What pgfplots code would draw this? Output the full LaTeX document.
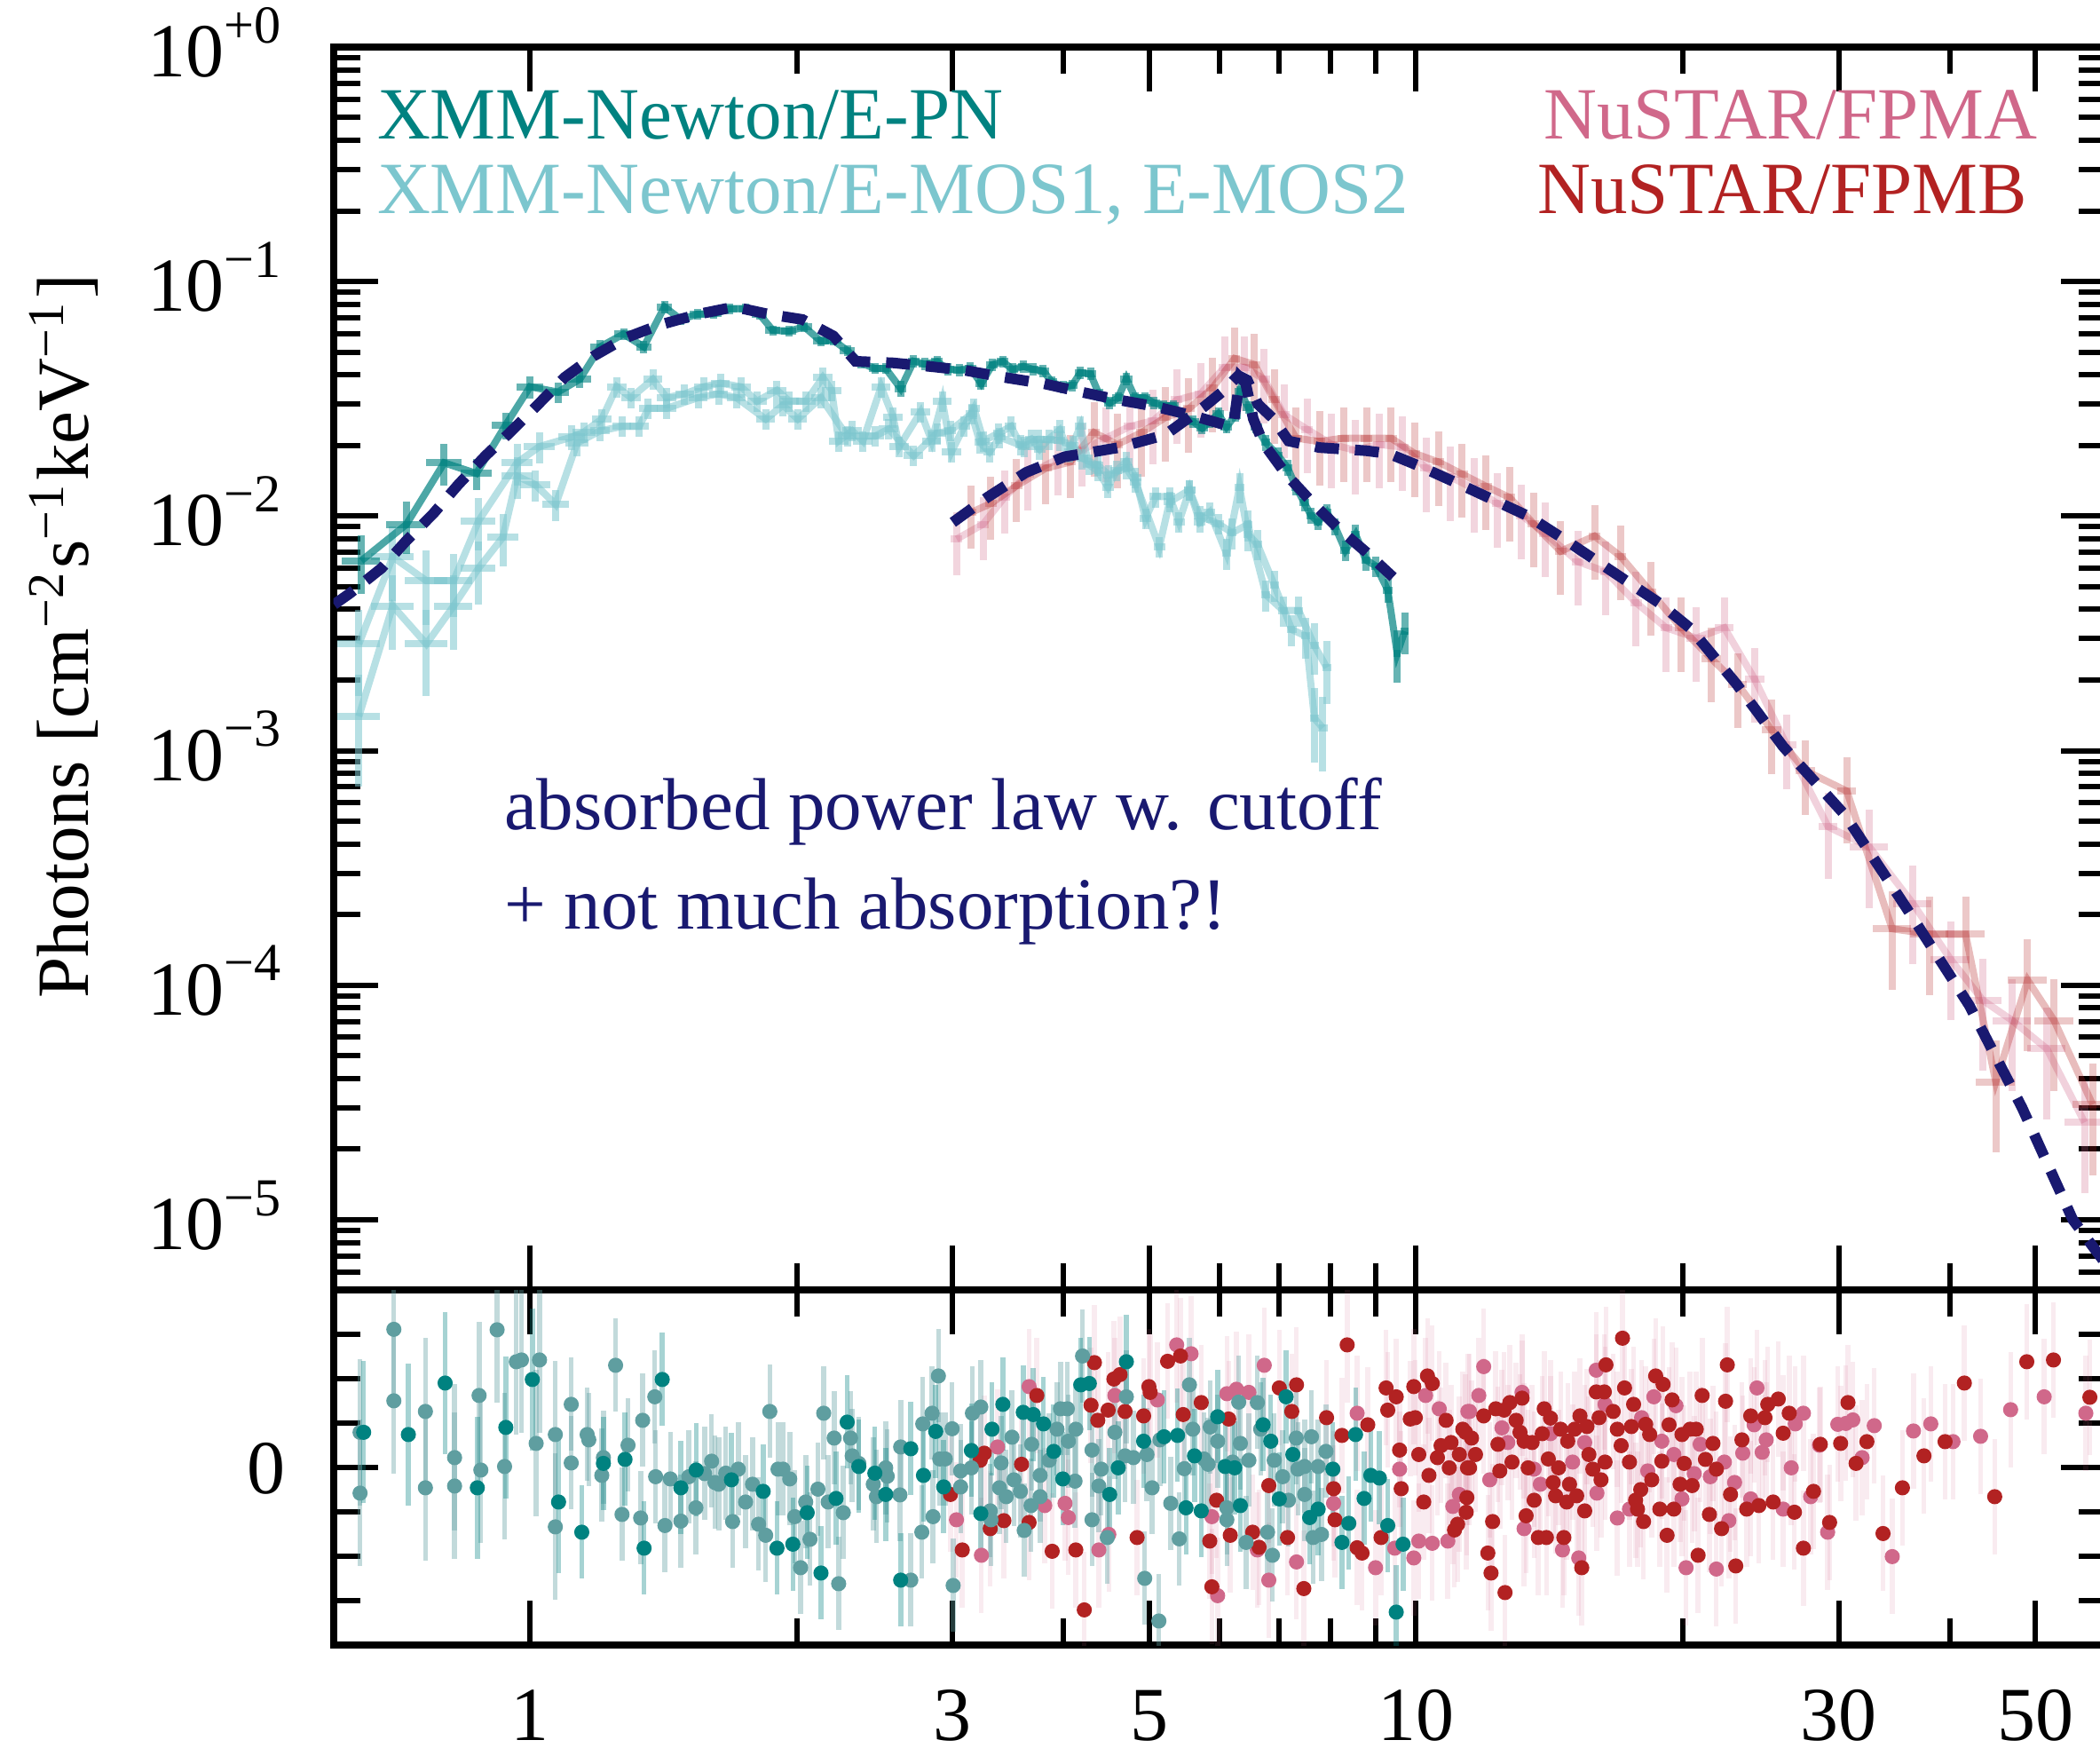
\documentclass[border=0pt]{standalone}
\usepackage{fontspec}
\setmainfont{Liberation Serif}
\usepackage{pgfplots}
\pgfplotsset{compat=1.18}

\definecolor{pn}{RGB}{0,130,128}
\definecolor{mos}{RGB}{124,198,206}
\definecolor{mosres}{RGB}{95,158,160}
\definecolor{fpma}{RGB}{208,104,138}
\definecolor{fpmb}{RGB}{178,34,34}
\definecolor{navy}{RGB}{25,25,112}

\pgfplotsset{
  every axis/.append style={
    scale only axis, width=199.66pt,
    xmin=0.6, xmax=60,
    xtick={1,3,5,10,30,50}, minor xtick={2,4,6,7,8,9,20,40},
    xtick pos=both, ytick pos=both, tick align=inside,
    major tick length=5pt, minor tick length=3pt,
    tick style={black, line width=0.6pt},
    axis line style={line width=0.8pt},
    tick label style={font=\fontsize{8.6}{10}\selectfont},
  },
  specline/.style={mark=none, line width=0.8pt,
    error bars/x dir=both, error bars/y dir=both,
    error bars/x explicit relative, error bars/y explicit relative,
    error bars/error mark=none},
  resdots/.style={only marks, mark=*, mark size=0.65pt,
    error bars/y dir=both, error bars/y fixed=#1,
    error bars/error mark=none},
  modelline/.style={no marks, color=navy, line width=1.2pt, dash pattern=on 2.7pt off 1.8pt},
}

\begin{document}
\fontsize{8.3}{10}\selectfont
\begin{tikzpicture}[font=\fontsize{8.3}{10}\selectfont]

% ---------------- spectrum ----------------
\begin{axis}[at={(37.57pt,51.55pt)}, anchor=south west, height=140.05pt,
  xmode=log, ymode=log, ymin=5e-6, ymax=1,
  ytick={1e-5,1e-4,1e-3,1e-2,1e-1,1},
  yticklabels={10\textsuperscript{−5},10\textsuperscript{−4},10\textsuperscript{−3},10\textsuperscript{−2},10\textsuperscript{−1},10\textsuperscript{+0}},
  minor ytick={6e-6,7e-6,8e-6,9e-6,
    2e-5,3e-5,4e-5,5e-5,6e-5,7e-5,8e-5,9e-5,
    2e-4,3e-4,4e-4,5e-4,6e-4,7e-4,8e-4,9e-4,
    2e-3,3e-3,4e-3,5e-3,6e-3,7e-3,8e-3,9e-3,
    2e-2,3e-2,4e-2,5e-2,6e-2,7e-2,8e-2,9e-2,
    2e-1,3e-1,4e-1,5e-1,6e-1,7e-1,8e-1,9e-1},
  xticklabels={},
  yticklabel style={anchor=base east, inner sep=0pt, yshift=-3.35pt, xshift=-5.2pt},
]
% NuSTAR FPMA
\addplot[specline, color=fpma, opacity=0.3,
  error bars/error bar style={fpma, opacity=0.28, line width=0.8pt}]
  table[x=E, y=F, x error=dE, y error=dF] {
E F dE dF
3.03 7.98e-3 0.015 0.3
3.245 9.23e-3 0.015 0.3
3.43 0.012 0.015 0.3
3.65 0.01514 0.015 0.3
3.945 0.0175 0.015 0.3
4.195 0.0191 0.015 0.3
4.465 0.0215 0.015 0.35
4.75 0.0241 0.015 0.35
5.05 0.0255 0.015 0.35
5.37 0.0313 0.015 0.35
5.71 0.0332 0.015 0.35
6.08 0.0431 0.015 0.35
6.40 0.0431 0.015 0.35
6.74 0.0383 0.015 0.35
7.095 0.0271 0.015 0.35
7.54 0.0234 0.015 0.35
8.03 0.0202 0.015 0.35
8.54 0.0191 0.015 0.35
9.08 0.0202 0.015 0.35
9.66 0.0197 0.015 0.35
10.27 0.016 0.015 0.35
10.93 0.0147 0.015 0.35
11.62 0.0131 0.015 0.35
12.36 0.0113 0.015 0.35
13.15 0.01007 0.015 0.35
13.98 8.46e-3 0.015 0.35
15.22 6.4e-3 0.015 0.35
16.37 5.79e-3 0.015 0.35
17.71 4.28e-3 0.015 0.35
19.15 3.34e-3 0.015 0.35
20.71 3.02e-3 0.025 0.35
22.28 3.34e-3 0.025 0.35
24.1 2.02e-3 0.025 0.35
26.2 1.055e-3 0.025 0.35
29.17 4.74e-4 0.025 0.4
32.49 3.88e-4 0.05 0.45
36.36 2.23e-4 0.05 0.45
40.1 1.29e-4 0.05 0.45
43.6 8.63e-5 0.05 0.5
47.1 7.06e-5 0.05 0.5
51.5 5.36e-5 0.05 0.5
56.8 2.6e-5 0.05 0.5
};
% NuSTAR FPMB
\addplot[specline, color=fpmb, opacity=0.3,
  error bars/error bar style={fpmb, opacity=0.25, line width=0.8pt}]
  table[x=E, y=F, x error=dE, y error=dF] {
E F dE dF
3.145 0.01036 0.015 0.3
3.31 0.0113 0.015 0.3
3.54 0.01346 0.015 0.3
3.82 0.016 0.015 0.3
4.07 0.017 0.015 0.3
4.33 0.0227 0.015 0.35
4.60 0.0202 0.015 0.35
4.90 0.0227 0.015 0.35
5.21 0.0263 0.015 0.35
5.54 0.0287 0.015 0.35
5.89 0.0351 0.015 0.35
6.24 0.047 0.015 0.35
6.57 0.0443 0.015 0.35
6.915 0.0313 0.015 0.35
7.32 0.0215 0.015 0.35
7.78 0.0208 0.015 0.35
8.28 0.0215 0.015 0.35
8.80 0.0215 0.015 0.35
9.37 0.0215 0.015 0.35
9.96 0.0185 0.015 0.35
10.6 0.017 0.015 0.35
11.27 0.0151 0.015 0.35
11.99 0.0134 0.015 0.35
12.75 0.012 0.015 0.35
13.56 0.0093 0.015 0.35
14.56 7.08e-3 0.015 0.35
15.9 8.22e-3 0.015 0.35
17.02 6.73e-3 0.015 0.35
18.41 4.74e-3 0.015 0.35
19.91 3.34e-3 0.015 0.35
21.53 2.47e-3 0.025 0.35
23.06 1.92e-3 0.025 0.35
25.19 1.225e-3 0.025 0.35
27.51 8.21e-4 0.025 0.35
30.63 6.72e-4 0.025 0.4
34.45 1.74e-4 0.05 0.45
37.99 1.65e-4 0.05 0.45
41.7 1.65e-4 0.05 0.45
45.1 3.87e-5 0.05 0.5
49.0 1.05e-4 0.05 0.5
52.5 7.06e-5 0.05 0.5
58.0 3.1e-5 0.05 0.5
};
% XMM MOS1
\addplot[specline, color=mos, opacity=0.55,
  error bars/error bar style={mos, opacity=0.55, line width=0.8pt}]
  table[x=E, y=F, x error=dE, y error=dF] {
E F dE dF
0.641 2.85e-3 0.055 0.4
0.70 6.7e-3 0.055 0.35
0.764 5.3e-3 0.055 0.35
0.82 5.3e-3 0.05 0.3
0.875 9.55e-3 0.045 0.25
0.967 0.0169 0.04 0.2
1.025 0.0198 0.04 0.15
1.114 0.0217 0.035 0.12
1.15 0.0228 0.03 0.1
1.205 0.0259 0.025 0.1
1.253 0.0356 0.025 0.1
1.30 0.032 0.025 0.1
1.376 0.0383 0.025 0.1
1.426 0.032 0.025 0.1
1.495 0.0332 0.025 0.1
1.57 0.0356 0.025 0.1
1.64 0.0369 0.025 0.1
1.73 0.0356 0.025 0.1
1.804 0.0309 0.025 0.1
1.90 0.0344 0.025 0.1
1.96 0.031 0.025 0.1
2.05 0.0309 0.025 0.1
2.14 0.039 0.025 0.1
2.19 0.0344 0.025 0.1
2.23 0.0209 0.025 0.1
2.31 0.0231 0.025 0.1
2.375 0.0209 0.025 0.1
2.49 0.0356 0.025 0.1
2.57 0.0263 0.025 0.1
2.61 0.0198 0.025 0.1
2.76 0.0278 0.025 0.1
2.84 0.0209 0.025 0.1
2.92 0.0309 0.025 0.1
2.99 0.0188 0.025 0.1
3.09 0.0241 0.015 0.1
3.17 0.0288 0.015 0.1
3.25 0.0209 0.015 0.1
3.38 0.0226 0.015 0.1
3.49 0.0241 0.015 0.1
3.58 0.0201 0.015 0.1
3.68 0.0213 0.015 0.1
3.76 0.0193 0.015 0.1
3.85 0.0213 0.015 0.1
3.96 0.0233 0.015 0.1
4.06 0.0188 0.015 0.1
4.18 0.0241 0.015 0.1
4.27 0.0166 0.015 0.1
4.37 0.0156 0.015 0.1
4.49 0.0133 0.015 0.1
4.59 0.0156 0.015 0.1
4.71 0.0171 0.015 0.1
4.82 0.0146 0.015 0.1
4.95 0.00976 0.015 0.1
5.08 0.0121 0.015 0.1
5.27 0.0121 0.015 0.1
5.40 0.00946 0.015 0.1
5.55 0.0129 0.015 0.1
5.70 0.00946 0.015 0.1
5.85 0.0104 0.015 0.1
6.11 0.00693 0.012 0.15
6.32 0.0133 0.012 0.15
6.46 0.00836 0.012 0.15
6.62 0.0076 0.012 0.15
6.92 0.00507 0.012 0.15
7.24 0.00328 0.012 0.15
7.51 0.00308 0.012 0.2
7.68 1.37e-3 0.012 0.35
7.85 1.25e-3 0.012 0.35
};
% XMM MOS2
\addplot[specline, color=mos, opacity=0.55,
  error bars/error bar style={mos, opacity=0.55, line width=0.8pt}]
  table[x=E, y=F, x error=dE, y error=dF] {
E F dE dF
0.641 1.40e-3 0.055 0.5
0.70 4.14e-3 0.055 0.35
0.764 2.85e-3 0.055 0.4
0.82 4.14e-3 0.05 0.35
0.875 6.0e-3 0.045 0.3
0.932 8.13e-3 0.04 0.25
0.967 0.0148 0.04 0.2
1.014 0.0136 0.04 0.15
1.069 0.0112 0.035 0.15
1.13 0.0205 0.03 0.12
1.20 0.0231 0.025 0.1
1.27 0.0241 0.025 0.1
1.328 0.0241 0.025 0.1
1.36 0.0288 0.025 0.1
1.426 0.0288 0.025 0.1
1.548 0.032 0.025 0.1
1.632 0.0332 0.025 0.1
1.71 0.032 0.025 0.1
1.845 0.0259 0.025 0.1
1.93 0.0297 0.025 0.1
2.005 0.0259 0.025 0.1
2.13 0.032 0.025 0.1
2.28 0.0219 0.025 0.1
2.45 0.0219 0.025 0.1
2.54 0.0235 0.025 0.1
2.71 0.0181 0.025 0.1
2.88 0.0226 0.025 0.1
2.98 0.0231 0.015 0.1
3.15 0.0273 0.015 0.1
3.22 0.0206 0.015 0.1
3.30 0.0188 0.015 0.1
3.39 0.0217 0.015 0.1
3.61 0.0198 0.015 0.1
3.75 0.0213 0.015 0.1
3.96 0.021 0.015 0.1
4.1 0.020 0.015 0.1
4.2 0.0176 0.015 0.1
4.37 0.0165 0.015 0.1
4.5 0.0150 0.015 0.1
4.71 0.0160 0.015 0.1
4.82 0.0140 0.015 0.1
5.13 0.00738 0.015 0.1
5.27 0.0115 0.015 0.1
5.55 0.0129 0.015 0.1
5.70 0.0100 0.015 0.1
5.98 0.00927 0.015 0.1
6.2 0.0085 0.012 0.15
6.46 0.0092 0.012 0.15
6.77 0.00462 0.012 0.15
7.08 0.00396 0.012 0.15
7.37 0.00396 0.012 0.15
7.68 0.0028 0.012 0.25
7.93 2.26e-3 0.012 0.3
};
% XMM PN
\addplot[specline, color=pn, opacity=0.7,
  error bars/error bar style={pn, opacity=0.6, line width=0.8pt}]
  table[x=E, y=F, x error=dE, y error=dF] {
E F dE dF
0.645 6.45e-3 0.05 0.28
0.725 9.2e-3 0.05 0.25
0.80 0.01687 0.045 0.2
0.87 0.0152 0.04 0.15
0.939 0.0245 0.035 0.13
1.00 0.0356 0.035 0.11
1.075 0.0338 0.03 0.1
1.138 0.0383 0.03 0.08
1.20 0.0527 0.025 0.07
1.275 0.0597 0.025 0.06
1.344 0.0527 0.02 0.06
1.418 0.078 0.02 0.06
1.48 0.0689 0.02 0.05
1.545 0.0726 0.02 0.05
1.613 0.073 0.02 0.05
1.681 0.0766 0.02 0.05
1.752 0.0766 0.02 0.05
1.815 0.0726 0.02 0.05
1.88 0.0619 0.02 0.05
1.96 0.0615 0.02 0.05
2.04 0.0641 0.02 0.05
2.13 0.0556 0.02 0.05
2.20 0.0562 0.02 0.05
2.28 0.0508 0.02 0.05
2.365 0.0449 0.02 0.05
2.45 0.0426 0.015 0.05
2.52 0.0426 0.015 0.05
2.62 0.035 0.015 0.08
2.71 0.0457 0.015 0.06
2.79 0.0445 0.015 0.06
2.88 0.0455 0.015 0.06
2.965 0.0422 0.015 0.06
3.05 0.042 0.015 0.06
3.14 0.0427 0.015 0.06
3.23 0.0367 0.015 0.06
3.325 0.0442 0.015 0.06
3.415 0.0456 0.015 0.06
3.505 0.0422 0.015 0.06
3.606 0.0435 0.015 0.06
3.697 0.0422 0.015 0.06
3.796 0.0416 0.015 0.06
3.88 0.0373 0.015 0.06
3.996 0.0355 0.015 0.06
4.09 0.036 0.015 0.06
4.18 0.0409 0.015 0.06
4.29 0.0404 0.015 0.06
4.39 0.0329 0.015 0.06
4.51 0.0304 0.015 0.06
4.61 0.0319 0.015 0.06
4.71 0.0385 0.015 0.06
4.82 0.0319 0.015 0.06
4.94 0.0319 0.015 0.06
5.06 0.0304 0.015 0.06
5.19 0.0295 0.015 0.06
5.32 0.0295 0.015 0.06
5.47 0.026 0.015 0.06
5.60 0.0253 0.015 0.06
5.735 0.0237 0.015 0.06
5.85 0.0253 0.015 0.06
5.98 0.0273 0.015 0.06
6.11 0.024 0.015 0.06
6.25 0.0269 0.015 0.06
6.33 0.0339 0.015 0.06
6.47 0.029 0.015 0.06
6.60 0.024 0.015 0.06
6.765 0.0206 0.012 0.08
6.98 0.0182 0.012 0.08
7.16 0.0161 0.012 0.08
7.32 0.0133 0.012 0.08
7.48 0.0114 0.012 0.08
7.61 0.01007 0.012 0.08
7.75 0.00946 0.012 0.08
7.93 0.0104 0.012 0.08
8.10 0.00903 0.012 0.08
8.32 0.00715 0.012 0.1
8.545 0.00836 0.012 0.1
8.775 0.00651 0.012 0.1
9.01 0.00612 0.012 0.1
9.29 0.00484 0.012 0.12
9.52 0.0026 0.01 0.25
9.71 0.00323 0.01 0.2
};
% model, XMM
\addplot[modelline] coordinates {
(0.601,4.2e-3) (0.626,4.68e-3) (0.68,6.0e-3) (0.725,7.85e-3) (0.778,0.01025)
(0.83,0.01363) (0.891,0.0181) (0.95,0.0228) (1.02,0.0298) (1.094,0.039)
(1.181,0.0482) (1.283,0.0576) (1.40,0.0653) (1.549,0.0726) (1.701,0.078)
(1.858,0.0726) (2.03,0.0689) (2.20,0.0586) (2.33,0.0457) (2.57,0.045)
(2.85,0.0433) (3.10,0.0418) (3.42,0.0391) (3.80,0.0367) (4.16,0.034)
(4.59,0.0314) (5.04,0.0295) (5.58,0.0269) (6.08,0.0245) (6.22,0.0245)
(6.33,0.039) (6.42,0.037) (6.55,0.026) (6.72,0.0205) (7.13,0.0151)
(7.64,0.0114) (8.16,0.0089) (8.78,0.00703) (9.42,0.00549)
};
% model, NuSTAR
\addplot[modelline] coordinates {
(3.0,9.4e-3) (3.28,0.012) (3.63,0.01536) (4.01,0.0179) (4.62,0.0196)
(5.21,0.0222) (5.76,0.0292) (6.05,0.034) (6.30,0.0397) (6.45,0.038)
(6.63,0.0300) (6.9,0.026) (7.18,0.0209) (7.78,0.0196) (8.78,0.019)
(9.32,0.01846) (10.1,0.0163) (11.63,0.0128) (13.38,0.0100) (14.8,7.83e-3)
(16.69,5.77e-3) (18.83,4.25e-3) (20.4,3.32e-3) (23.0,1.92e-3) (25.96,1.04e-3)
(30.5,5.3e-4) (35.8,2.12e-4) (42.1,8.2e-5) (48.3,3.0e-5) (55.1,1.0e-5)
(60,6.5e-6)
};
\end{axis}

% ---------------- residuals ----------------
\begin{axis}[at={(37.57pt,11.55pt)}, anchor=south west, height=40pt,
  xmode=log, ymin=-4, ymax=4, ytick={0}, yticklabels={0}, minor ytick={-3,-2,-1,1,2,3},
  xticklabels={1,3,5,10,30,50},
  xticklabel style={anchor=base, yshift=-10.7pt},
  yticklabel style={anchor=base east, inner sep=0pt, yshift=-2.9pt, xshift=-5.2pt},
]
% FPMA
\addplot[resdots=1.3, color=fpma,
  error bars/error bar style={fpma, opacity=0.13, line width=0.55pt}]
  table[x=E, y=r] {
E r
3.029 -1.17
3.232 -1.97
3.37 0.47
3.658 1.83
3.81 -0.85
4.016 -0.8
4.051 -1.12
4.385 -1.85
4.50 -1.5
4.571 1.63
5.105 1.53
5.368 2.77
5.573 2.57
5.882 -1.1
5.971 -2.88
6.116 1.67
6.27 1.77
6.476 1.7
6.62 -1.85
6.74 2.31
6.82 -2.53
7.33 -2.12
8.07 -0.8
8.58 1.23
9.0 -2.25
9.46 -1.81
9.58 -0.03
9.94 -2.03
10.07 -1.65
10.25 1.63
10.43 -1.7
10.62 1.33
10.86 -1.65
11.0 -0.87
11.19 -0.6
11.44 1.27
11.49 1.27
11.77 1.63
11.92 2.28
12.11 -0.27
12.5 0.9
12.69 0.57
13.17 1.7
13.24 -1.37
13.59 -0.03
13.81 -0.37
14.18 0.77
14.63 -1.85
15.02 0.13
15.26 -2.03
15.5 0.57
15.97 2.2
16.0 -0.57
16.34 1.43
16.87 -1.13
17.41 -0.93
17.97 1.13
18.26 -0.07
18.55 1.6
18.94 0.6
19.54 0.3
19.65 1.4
19.96 -0.7
20.17 -2.25
20.6 -0.13
20.92 0.53
21.48 -0.2
21.82 -2.28
22.28 0.13
22.54 -1.19
22.88 -0.33
23.37 0.33
23.86 -0.7
24.07 0.97
24.25 1.8
24.58 0.35
24.84 0.63
25.96 -0.93
26.51 0
26.79 0.99
27.36 1.23
27.88 -0.65
28.53 0.51
29.14 -1.45
29.92 0.98
30.55 1.0
31.11 1.08
31.87 0.23
32.89 0.95
34.47 -2.0
36.42 0.83
38.1 0.99
40.36 0.59
43.36 0.71
46.88 1.31
51.15 1.6
57.0 1.23
};
% FPMB
\addplot[resdots=1.3, color=fpmb,
  error bars/error bar style={fpma, opacity=0.13, line width=0.55pt}]
  table[x=E, y=r] {
E r
2.982 -0.6
3.075 -1.85
3.222 0.17
3.256 0.33
3.307 -1.37
3.426 -1.19
3.587 0.08
3.658 -1.23
3.733 1.63
3.885 -1.88
4.13 -1.85
4.222 -3.2
4.297 1.41
4.335 2.37
4.373 1.07
4.492 1.3
4.56 2.0
4.633 2.1
4.694 1.27
4.843 -1.57
4.926 1.17
4.994 1.83
5.01 1.7
5.243 2.4
5.422 2.52
5.46 1.2
5.722 1.47
5.85 -1.65
5.882 -2.68
5.955 -0.73
6.145 1.1
6.17 -1.52
6.54 -1.45
6.65 -1.79
6.82 -0.4
7.009 1.8
7.16 -1.57
7.24 1.27
7.33 1.87
7.47 -2.72
7.925 1.13
8.07 -0.47
8.10 -1.17
8.248 0.73
8.36 2.77
8.58 -1.8
8.69 -1.92
8.82 0.97
9.13 -1.57
9.25 1.8
9.29 1.3
9.497 1.6
9.58 0.4
9.62 -0.47
9.85 1.1
9.94 1.83
9.98 1.13
10.07 0.3
10.2 -0.77
10.3 2.07
10.34 -0.17
10.43 1.9
10.57 0.23
10.67 0.5
10.81 1.07
10.9 0
10.95 0.57
11.05 -1.4
11.14 -1.27
11.19 0.3
11.29 0.87
11.37 0.8
11.39 -1.0
11.41 -0.67
11.43 0
11.49 0
11.55 0.67
11.67 0.3
11.92 1.17
12.05 -1.92
12.15 -2.37
12.2 -1.21
12.3 1.33
12.37 0.53
12.43 -0.07
12.57 1.3
12.6 -2.81
12.76 1.47
12.83 0.13
12.97 1.07
13.1 0.8
13.17 1.57
13.24 0.6
13.31 -1.08
13.38 0
13.52 0.57
13.59 -0.73
13.74 -1.57
13.88 0.77
13.95 1.33
14.03 -1.57
14.1 0.2
14.18 1.12
14.28 -0.33
14.37 -0.63
14.48 0
14.56 0.87
14.68 -1.57
14.79 -0.77
14.83 0.6
14.9 -0.37
15.1 0.87
15.18 -0.63
15.31 1.17
15.38 -2.25
15.5 -0.97
15.59 0.93
15.67 0.3
15.83 -0.03
15.97 1.71
16.09 1.13
16.17 -0.27
16.31 1.71
16.34 0.13
16.38 2.32
16.69 1.27
16.87 0.87
17.04 0.5
17.1 2.92
17.19 1.8
17.41 0.13
17.5 0.93
17.6 1.43
17.69 -0.73
17.78 -0.93
17.93 -0.49
18.06 -1.21
18.16 0.98
18.35 0.75
18.45 -0.27
18.64 2.07
18.84 -0.93
18.94 0.15
19.0 1.88
19.2 -1.52
19.3 0.97
19.45 1.53
19.54 -0.93
19.86 -0.37
19.96 0.75
20.07 0.1
20.38 0.87
20.49 -0.4
20.71 0.87
20.81 -1.97
21.03 1.63
21.21 0.19
21.43 -1.05
21.63 0.55
21.82 -0.03
22.12 -1.37
22.35 1.5
22.45 2.32
22.64 -0.6
22.95 -2.21
23.32 0.63
23.61 -0.93
23.86 1.17
24.37 -0.85
24.76 1.13
24.94 1.43
25.29 -0.77
25.63 1.55
25.96 0.78
26.37 1.23
26.73 -1.0
27.36 -1.81
28.09 -0.53
28.59 0.53
29.29 -1.23
30.14 0.55
30.72 1.47
31.37 0.1
32.27 0.59
33.65 -1.48
35.39 -0.45
37.43 0.27
39.54 0.59
41.57 1.91
44.98 -0.65
48.89 2.39
52.4 2.43
57.6 1.59
};
% MOS, low energies
\addplot[resdots=1.65, color=mosres,
  error bars/error bar style={mosres, opacity=0.38, line width=0.55pt}]
  table[x=E, y=r] {
E r
0.643 0.8
0.643 -0.57
0.702 3.12
0.702 1.51
0.762 1.27
0.762 -0.45
0.822 0.23
0.822 -0.41
0.876 1.63
0.88 -0.05
0.918 3.11
0.936 0.03
0.965 2.39
0.978 2.43
1.016 0.55
1.025 2.43
1.068 0.75
1.068 -1.33
};
% MOS
\addplot[resdots=1.05, color=mosres,
  error bars/error bar style={mosres, opacity=0.38, line width=0.55pt}]
  table[x=E, y=r] {
E r
1.113 1.43
1.113 0.11
1.16 0.75
1.165 0.63
1.205 -0.17
1.21 0.23
1.249 2.31
1.27 -1.05
1.29 0.51
1.333 -1.13
1.34 1.07
1.383 1.6
1.386 -0.2
1.42 -1.3
1.44 -0.25
1.48 -1.2
1.511 -0.2
1.539 -0.9
1.574 -0.13
1.603 0.15
1.617 -0.33
1.633 -0.37
1.663 -0.12
1.693 -1.21
1.718 -0.03
1.751 -0.77
1.783 -0.37
1.811 -1.27
1.845 -1.52
1.865 1.27
1.905 -0.03
1.93 -0.03
1.964 -0.25
1.99 -1.1
2.02 -2.25
2.047 -0.77
2.07 -1.61
2.113 -0.48
2.145 1.23
2.17 -0.77
2.204 0.67
2.23 -2.61
2.257 -1.01
2.30 0.67
2.31 0.27
2.35 0.1
2.44 -0.37
2.46 -0.65
2.52 0
2.53 -0.19
2.615 -0.61
2.62 0.47
2.69 -2.53
2.768 -1.45
2.775 0.99
2.843 1.23
2.85 -1.1
2.89 2.07
2.9 0.2
2.942 0.2
2.995 0.88
3.003 -2.65
3.062 -0.43
3.062 -0.07
3.149 0
3.157 1.23
3.227 1.37
3.307 -0.97
3.313 -1.17
3.387 -0.45
3.402 0.11
3.447 -0.65
3.499 0.69
3.517 -0.27
3.577 -0.53
3.612 -1.41
3.677 -0.85
3.683 0.53
3.765 -0.17
3.765 -0.65
3.855 0.17
3.934 0.87
3.969 1.33
4.04 1.33
4.051 0.6
4.122 -0.3
4.13 0.87
4.203 2.52
4.308 -1.17
4.308 0.4
4.385 -0.41
4.412 -0.03
4.482 -1.57
4.571 0.8
4.694 0.27
4.71 1.6
4.797 0.23
4.94 -2.49
4.969 0.3
5.036 -0.45
5.125 -3.45
5.139 0.63
5.286 -0.8
5.404 -1.6
5.475 -0.02
5.549 1.87
5.597 0.87
5.762 0.2
5.826 0.08
5.857 0.92
5.971 0.6
6.116 -0.9
6.116 -1.17
6.208 0.13
6.307 1.48
6.335 0.55
6.43 -1.68
6.476 0.17
6.62 1.47
6.678 0.87
6.798 -1.45
6.885 -1.97
6.917 0.17
7.071 -0.2
7.177 -0.73
7.324 0.67
7.356 -0.03
7.485 -0.6
7.485 0.03
7.62 0.7
7.653 -1.57
7.754 0.03
7.822 -1.5
7.913 0.37
};
% PN, low energies
\addplot[resdots=1.6, color=pn,
  error bars/error bar style={pn, opacity=0.35, line width=0.55pt}]
  table[x=E, y=r] {
E r
0.649 0.8
0.729 0.75
0.802 1.91
0.872 -0.45
0.939 0.91
1.006 1.99
1.077 -0.77
};
% PN
\addplot[resdots=1.05, color=pn,
  error bars/error bar style={pn, opacity=0.35, line width=0.55pt}]
  table[x=E, y=r] {
E r
1.144 -1.45
1.21 0.1
1.28 0.19
1.345 -1.81
1.41 1.99
1.48 -0.45
1.54 -0.05
1.688 -0.27
1.833 -0.53
1.90 -1.81
1.98 -1.72
2.055 -1.01
2.13 -2.37
2.215 -0.69
2.28 1.03
2.35 0.03
2.45 -0.12
2.52 -0.6
2.62 -2.53
2.69 0.43
2.78 -0.17
2.87 0.82
2.93 -0.43
3.149 0.39
3.227 -1.03
3.322 0.87
3.417 1.43
3.603 1.25
3.699 1.2
3.798 0.99
3.90 0.37
3.993 -0.25
4.184 1.87
4.278 1.9
4.51 -0.6
4.611 0
4.71 2.39
4.926 0.6
5.194 0.7
5.38 0.73
5.5 -0.9
5.622 0.27
5.722 -0.97
5.971 1.15
6.089 0.03
6.241 0
6.335 -0.85
6.72 0.97
6.855 0.6
7.009 -0.7
7.134 1.6
7.26 0.3
7.585 -1.12
7.754 -0.93
8.055 -0.03
8.248 -1.68
8.396 -1.25
8.545 0.75
8.736 -0.69
8.89 -0.17
9.09 -0.23
9.29 -1.3
9.497 -3.25
9.667 -1.72
};
\end{axis}

% ---------------- labels ----------------
\node[rotate=90, anchor=base, inner sep=0pt] at (9.95pt,125.2pt)
  {Photons [cm\textsuperscript{−2}s\textsuperscript{−1}keV\textsuperscript{−1}]};
\node[anchor=base west, inner sep=0pt, text=pn] at (42.3pt,181.2pt) {XMM-Newton/E-PN};
\node[anchor=base west, inner sep=0pt, text=mos] at (42.3pt,172.8pt) {XMM-Newton/E-MOS1, E-MOS2};
\node[anchor=base east, inner sep=0pt, text=fpma] at (229.75pt,181.2pt) {NuSTAR/FPMA};
\node[anchor=base east, inner sep=0pt, text=fpmb] at (228.6pt,172.8pt) {NuSTAR/FPMB};
\node[anchor=base west, inner sep=0pt, text=navy] at (56.6pt,103.4pt) {absorbed power law w. cutoff};
\node[anchor=base west, inner sep=0pt, text=navy] at (56.6pt,92.2pt) {+ not much absorption?!};

\pgfresetboundingbox
\path[use as bounding box] (0pt,0pt) rectangle (236.6pt,196.9pt);
\end{tikzpicture}
\end{document}
